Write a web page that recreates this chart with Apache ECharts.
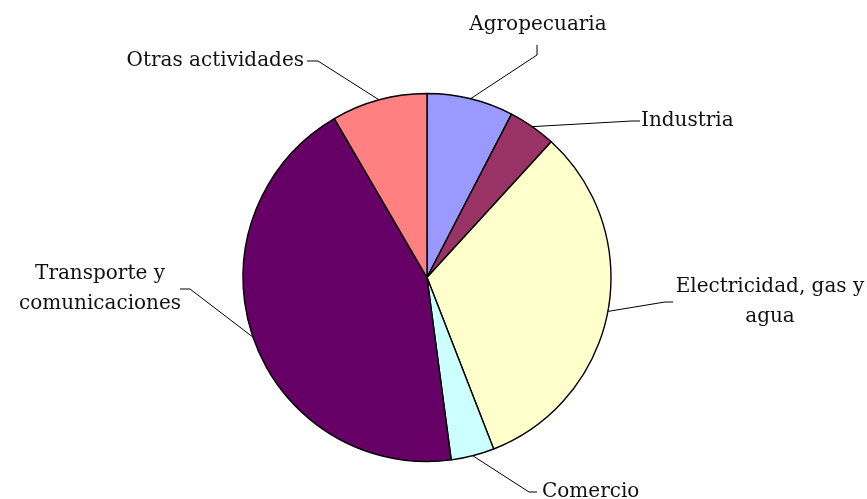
<!DOCTYPE html>
<html>
<head>
<meta charset="utf-8">
<script src="https://cdn.jsdelivr.net/npm/echarts@6/dist/echarts.min.js"></script>
<style>
  html, body { margin: 0; padding: 0; background: #fff; }
  #chart { width: 867px; height: 499px; }
</style>
</head>
<body>
<div id="chart"></div>
<script>
// categories and shares (%), clockwise from 12 o'clock
const categories = [
  "Agropecuaria",
  "Industria",
  "Electricidad, gas y\nagua",
  "Comercio",
  "Transporte y\ncomunicaciones",
  "Otras actividades",
];
const shares = [7.6, 4.2, 32.3, 3.8, 43.7, 8.4];
const colors = ["#9999FF", "#993366", "#FFFFCC", "#CCFFFF", "#660066", "#FF8080"];

// where each label sits and how its leader line bends
const labelSpots = [
  { x: 538, y: 25, align: "center", end: [537, 45], bend: [537, 55] },
  { x: 641, y: 121, align: "left", end: [640, 121], bend: [632, 121] },
  { x: 770, y: 302, align: "center", end: [673, 302], bend: [665, 302] },
  { x: 542, y: 492, align: "left", end: [537, 492], bend: [529, 492] },
  { x: 100, y: 289, align: "center", end: [180, 289], bend: [190, 289] },
  { x: 304, y: 61, align: "right", end: [307, 61], bend: [318, 61] },
];

const chart = echarts.init(document.getElementById("chart"));

chart.setOption({
  animation: false,
  backgroundColor: "#fff",
  series: [
    {
      type: "pie",
      center: [427, 277.5],
      radius: 184,
      startAngle: 90,
      clockwise: true,
      avoidLabelOverlap: false,
      data: categories.map((name, i) => ({
        name,
        value: shares[i],
        itemStyle: { color: colors[i] },
      })),
      itemStyle: { borderColor: "#000", borderWidth: 1.4 },
      emphasis: { disabled: true },
      label: {
        show: true,
        position: "outside",
        color: "#111",
        fontFamily: "DejaVu Serif",
        fontSize: 20,
        lineHeight: 30,
        formatter: "{b}",
      },
      labelLine: {
        show: true,
        length: 20,
        length2: 10,
        lineStyle: { color: "#000", width: 1 },
      },
      labelLayout: (params) => {
        const s = labelSpots[params.dataIndex];
        const start = params.labelLinePoints[0];
        return {
          x: s.x,
          y: s.y,
          align: s.align,
          verticalAlign: "middle",
          labelLinePoints: [start, s.bend, s.end],
        };
      },
    },
  ],
});
</script>
</body>
</html>
